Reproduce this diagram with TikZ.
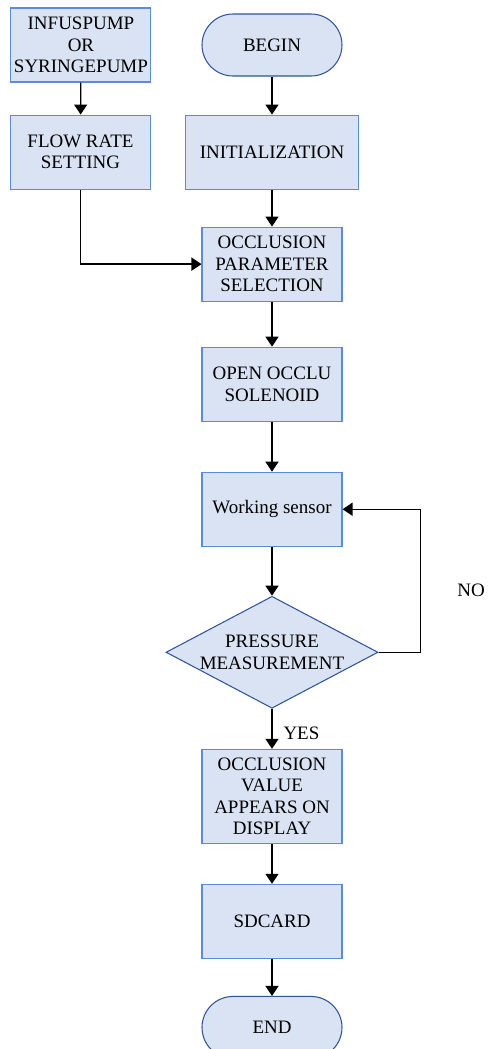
\documentclass[tikz,border=0pt]{standalone}
\usepackage{fontspec}
\setmainfont{Liberation Serif}
\usetikzlibrary{shapes,arrows.meta,positioning,calc}

\definecolor{boxfill}{HTML}{DAE3F3}
\definecolor{boxline}{HTML}{5B8BD9}
\definecolor{termline}{HTML}{2F5597}

\begin{document}
\begin{tikzpicture}[
    txt/.style={font=\fontsize{10.8}{12.2}\selectfont},
    box/.style={txt, draw=boxline, fill=boxfill, line width=0.6pt, minimum width=2.8cm, minimum height=1.48cm, align=center, inner sep=1pt},
    term/.style={box, draw=termline, rounded corners=0.62cm, minimum height=1.24cm},
    decision/.style={box, diamond, aspect=1.89, inner sep=0pt, minimum width=4.24cm, minimum height=2.24cm, draw=termline},
    arr/.style={-{Triangle[length=0.2cm,width=0.26cm]}, line width=0.75pt}
]
    \useasboundingbox (0,0) rectangle (9.82,-20.98);

    \node[term] (begin) at (5.44,-0.9) {BEGIN};
    \node[box, left=1cm of begin] (pump) {INFUSPUMP\\OR\\SYRINGEPUMP};
    \node[box, minimum width=3.46cm, below=0.76cm of begin] (init) {INITIALIZATION};
    \node[box, left=0.68cm of init] (flow) {FLOW RATE\\SETTING};
    \node[box, below=0.74cm of init] (param) {OCCLUSION\\PARAMETER\\SELECTION};
    \node[box, below=0.9cm of param] (open) {OPEN OCCLU\\SOLENOID};
    \node[box, below=1cm of open] (sensor) {Working sensor};
    \node[decision, below=0.98cm of sensor] (press) {PRESSURE\\MEASUREMENT};
    \node[box, minimum height=1.88cm, below=0.8cm of press] (display) {OCCLUSION\\VALUE\\APPEARS ON\\DISPLAY};
    \node[box, below=0.8cm of display] (sdcard) {SDCARD};
    \node[term, below=0.74cm of sdcard] (end) {END};

    \draw[arr] (pump) -- (flow);
    \draw[arr] (begin) -- (init);
    \draw[arr] (init) -- (param);
    \draw[arr] (flow.south) |- (param.west);
    \draw[arr] (param) -- (open);
    \draw[arr] (open) -- (sensor);
    \draw[arr] (sensor) -- (press);
    \draw[arr] (press) -- node[txt, right=0.1cm, pos=0.6] (yes) {YES} (display);
    \draw[arr] (display) -- (sdcard);
    \draw[arr] (sdcard) -- (end);

    % NO branch back to the sensor
    \coordinate[right=1.56cm of sensor.east] (loop);
    \draw[arr] (press.east) -| (loop) -- (sensor.east);
    \node[txt] (no) at (9.42,-11.8) {NO};
\end{tikzpicture}
\end{document}
